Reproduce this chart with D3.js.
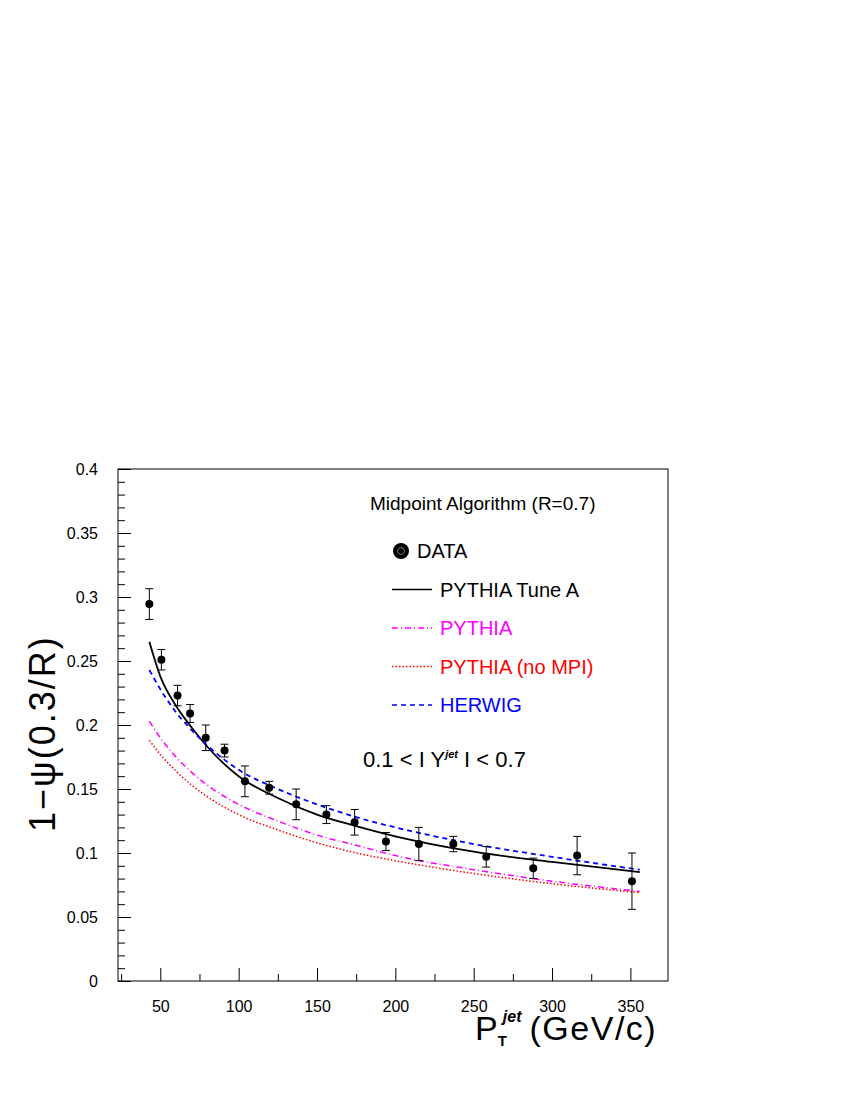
<!DOCTYPE html>
<html><head><meta charset="utf-8">
<script src="https://cdn.jsdelivr.net/npm/d3@7"></script>
<style>body{margin:0;background:#fff}text{font-family:"Liberation Sans",Arial,sans-serif}</style>
</head><body><svg id="c" width="850" height="1100"></svg>
<script>
const dataX=[43,50.7,61,69,79,91,104,119.5,136.7,156,174,194,215,237,258,288,316,351];
const dataY=[0.2945,0.251,0.223,0.209,0.19,0.18,0.156,0.151,0.138,0.130,0.124,0.109,0.107,0.107,0.097,0.088,0.098,0.078];
const dataErr=[0.012,0.008,0.008,0.007,0.01,0.005,0.012,0.005,0.012,0.007,0.01,0.007,0.013,0.006,0.008,0.008,0.015,0.022];
const curveX=[43,50,60,70,80,100,125,150,175,200,250,300,356];
const tuneA=[0.265,0.238,0.215,0.198,0.183,0.160,0.143,0.130,0.121,0.113,0.101,0.093,0.085];
const herwig=[0.243,0.228,0.210,0.196,0.184,0.165,0.150,0.138,0.128,0.120,0.107,0.097,0.087];
const pythia=[0.203,0.190,0.175,0.163,0.153,0.138,0.125,0.114,0.106,0.098,0.087,0.078,0.070];
const noMPI=[0.188,0.177,0.164,0.153,0.144,0.130,0.118,0.108,0.100,0.094,0.084,0.076,0.069];
const xTicks=[50,100,150,200,250,300,350];
const yTicks=[0,0.05,0.1,0.15,0.2,0.25,0.3,0.35,0.4];

const svg=d3.select("#c");
const L=118,R=668,T=469,B=981;
const x=d3.scaleLinear().domain([23,374]).range([L,R]);
const y=d3.scaleLinear().domain([0,0.4]).range([B,T]);
svg.append("rect").attr("x",L).attr("y",T).attr("width",R-L).attr("height",B-T).attr("fill","none").attr("stroke","#000").attr("stroke-width",1);
svg.append("g").attr("transform",`translate(0,${B})`).call(d3.axisBottom(x).tickValues(xTicks).tickSize(-13).tickPadding(20).tickFormat(d3.format("d")));
svg.append("g").attr("transform",`translate(0,${B})`).call(d3.axisBottom(x).tickValues(d3.range(25,375,25).filter(v=>v%50)).tickSize(-7).tickFormat(""));
svg.append("g").attr("transform",`translate(${L},0)`).call(d3.axisLeft(y).tickValues(yTicks).tickSize(-13).tickPadding(20).tickFormat(d=>d===0?"0":String(d)));
svg.append("g").attr("transform",`translate(${L},0)`).call(d3.axisLeft(y).tickValues(d3.range(0,0.4,0.01).filter((v,i)=>i%5)).tickSize(-7).tickFormat(""));
svg.selectAll(".domain").remove();
svg.selectAll(".tick text").attr("font-size",16).attr("fill","#000");
const line=d3.line().x((d,i)=>x(curveX[i])).y(d=>y(d)).curve(d3.curveMonotoneX);
const cs=[[tuneA,"#000",null,1.8],[herwig,"#0000ff","5,4",1.8],[pythia,"#ff00ff","6,3,1,3",1.5],[noMPI,"#ff0000","1.5,2",1.5]];
cs.forEach(([v,c,da,w])=>svg.append("path").attr("d",line(v)).attr("fill","none").attr("stroke",c).attr("stroke-width",w).attr("stroke-dasharray",da));
const g=svg.append("g");
dataX.forEach((dx,i)=>{
  const px=x(dx),y1=y(dataY[i]-dataErr[i]),y2=y(dataY[i]+dataErr[i]);
  g.append("line").attr("x1",px).attr("x2",px).attr("y1",y1).attr("y2",y2).attr("stroke","#000");
  [y1,y2].forEach(yy=>g.append("line").attr("x1",px-4).attr("x2",px+4).attr("y1",yy).attr("y2",yy).attr("stroke","#000"));
  g.append("circle").attr("cx",px).attr("cy",y(dataY[i])).attr("r",4).attr("fill","#000");
});
svg.append("text").attr("x",370).attr("y",510).attr("font-size",19).text("Midpoint Algorithm (R=0.7)");
svg.append("circle").attr("cx",401).attr("cy",551).attr("r",8).attr("fill","#000");
svg.append("circle").attr("cx",401).attr("cy",551).attr("r",3.5).attr("fill","none").attr("stroke","#777");
const leg=[["DATA","#000",null],["PYTHIA Tune A","#000",null],["PYTHIA","#ff00ff","6,3,1,3"],["PYTHIA (no MPI)","#ff0000","1.5,2"],["HERWIG","#0000ff","5,4"]];
leg.forEach(([t,c,da],i)=>{
  const yy=551+i*38.5;
  if(i>0) svg.append("line").attr("x1",392).attr("x2",432).attr("y1",yy).attr("y2",yy).attr("stroke",c).attr("stroke-width",1.5).attr("stroke-dasharray",da);
  svg.append("text").attr("x",i==0?417:440).attr("y",yy+7).attr("font-size",20).attr("fill",i==0?"#000":c).text(t);
});
const yl=svg.append("text").attr("x",363).attr("y",767).attr("font-size",22);
yl.append("tspan").text("0.1 < I Y");
yl.append("tspan").attr("dy",-9).attr("font-size",11).attr("font-style","italic").attr("font-weight","bold").text("jet");
yl.append("tspan").attr("dy",9).text(" I < 0.7");
const xl=svg.append("text").attr("x",475).attr("y",1040).attr("font-size",34);
xl.append("tspan").text("P");
xl.append("tspan").attr("dy",6).attr("font-size",15).attr("font-weight","bold").text("T");
xl.append("tspan").attr("dy",-24).attr("dx",-4).attr("font-size",16).attr("font-weight","bold").attr("font-style","italic").text("jet");
xl.append("tspan").attr("dy",18).attr("dx",8).attr("letter-spacing",1.5).text("(GeV/c)");
svg.append("text").attr("transform","translate(55,832) rotate(-90)").attr("font-size",36).attr("letter-spacing",2).text("1−ψ(0.3/R)");
</script></body></html>
